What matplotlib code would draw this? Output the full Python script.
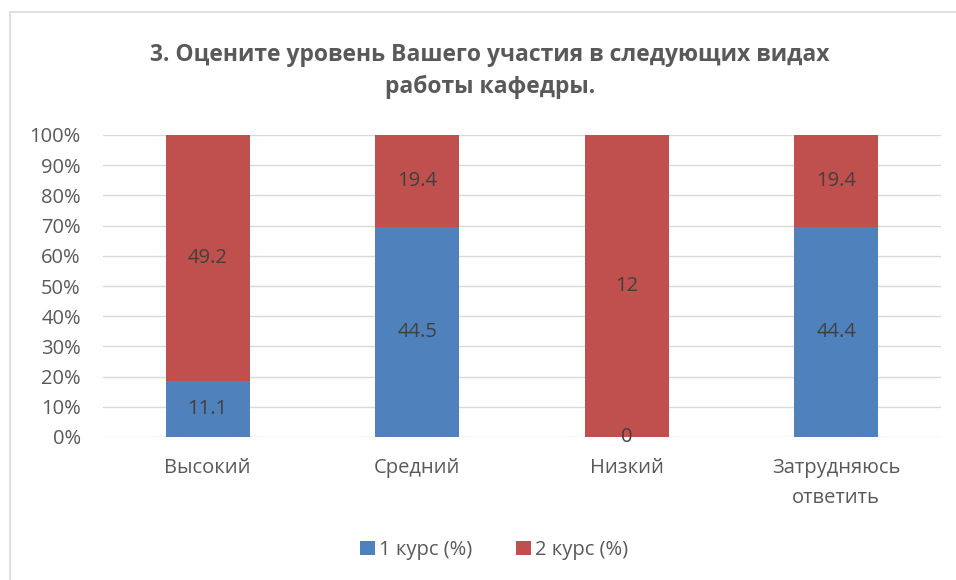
import matplotlib.pyplot as plt
import numpy as np
from matplotlib.patches import Rectangle

plt.rcParams['font.family'] = ['Open Sans', 'DejaVu Sans']

categories = ['Высокий', 'Средний', 'Низкий', 'Затрудняюсь\nответить']
course1 = [11.1, 44.5, 0, 44.4]
course2 = [49.2, 19.4, 12, 19.4]
series_names = ['1 курс (%)', '2 курс (%)']
yticks = [0, 10, 20, 30, 40, 50, 60, 70, 80, 90, 100]

blue = '#4f81bd'
red = '#c0504d'
text_col = '#595959'
label_col = '#404040'

c1 = np.array(course1)
c2 = np.array(course2)
total = c1 + c2
p1 = c1 / total * 100
p2 = c2 / total * 100

fig = plt.figure(figsize=(9.56, 5.8), dpi=100)
ax = fig.add_axes([103 / 956, 1 - 437 / 580, (941 - 103) / 956, (437 - 135) / 580])

# chart border like the spreadsheet frame
fig.patches.append(Rectangle((10 / 956, -0.01), 1.0, 1 - 12 / 580 + 0.01,
                             transform=fig.transFigure, fill=False,
                             edgecolor='#d9d9d9', linewidth=1.2))

x = np.arange(len(categories))
w = 0.4
ax.bar(x, p1, width=w, color=blue, label=series_names[0], zorder=3)
ax.bar(x, p2, width=w, bottom=p1, color=red, label=series_names[1], zorder=3)

fs = 14.5
for i in range(len(categories)):
    ax.text(x[i], p1[i] / 2, f'{course1[i]:g}', ha='center', va='center',
            fontsize=fs, color=label_col, zorder=4)
    ax.text(x[i], p1[i] + p2[i] / 2, f'{course2[i]:g}', ha='center', va='center',
            fontsize=fs, color=label_col, zorder=4)

ax.set_xlim(-0.5, len(categories) - 0.5)
ax.set_ylim(0, 100)
ax.set_yticks(yticks)
ax.set_yticklabels([f'{t}%' for t in yticks])
ax.set_xticks(x)
ax.set_xticklabels(categories, linespacing=1.65)
ax.tick_params(axis='both', length=0, labelsize=fs, labelcolor=text_col)
ax.tick_params(axis='x', pad=15)
ax.tick_params(axis='y', pad=16)
ax.grid(axis='y', color='#d9d9d9', linewidth=1, zorder=0)
for s in ax.spines.values():
    s.set_visible(False)

fig.text(490 / 956, 1 - 71 / 580,
         '3. Оцените уровень Вашего участия в следующих видах\nработы кафедры.',
         ha='center', va='center', fontsize=16.5, fontweight='bold',
         color=text_col, linespacing=1.45)

fig.legend(loc='center', bbox_to_anchor=(494 / 956, 1 - 550 / 580), ncol=2,
           frameon=False, fontsize=fs, labelcolor=text_col,
           handlelength=0.75, handleheight=0.75, handletextpad=0.2,
           columnspacing=2.2)

fig.savefig('out.png', dpi=100)
